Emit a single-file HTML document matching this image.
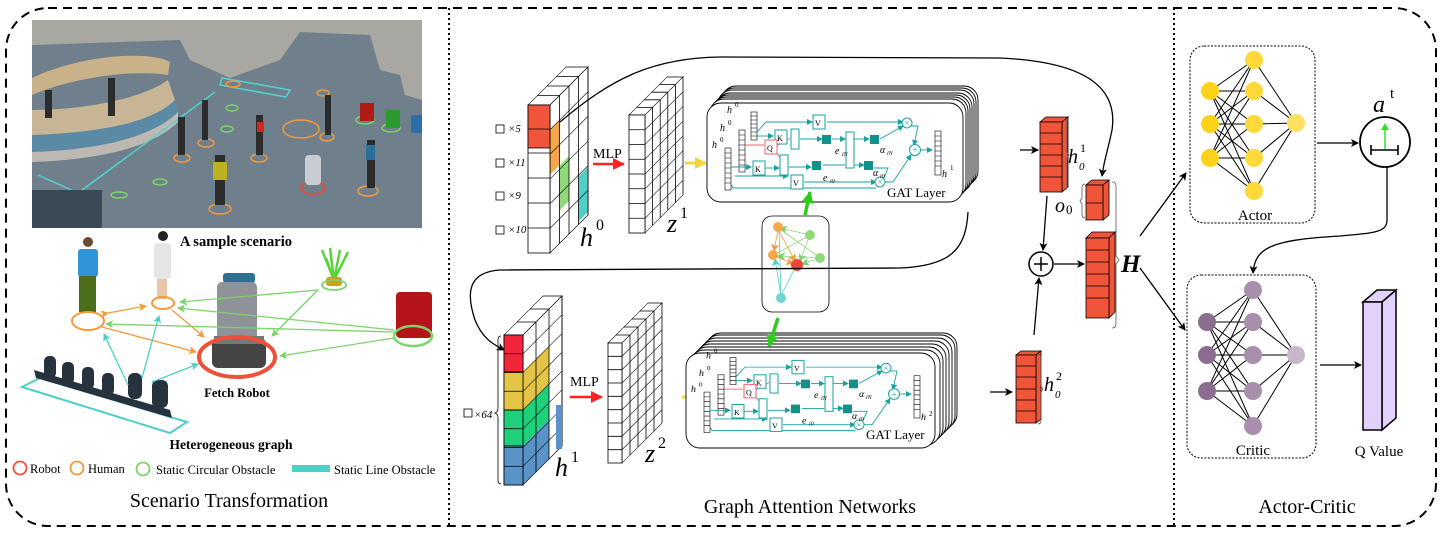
<!DOCTYPE html>
<html><head><meta charset="utf-8"><style>
html,body{margin:0;padding:0;background:#fff}
svg{display:block}
text{font-family:"Liberation Serif",serif}
</style></head><body>
<svg width="1445" height="535" viewBox="0 0 1445 535" xmlns="http://www.w3.org/2000/svg">
<defs>
<marker id="ak" markerWidth="8" markerHeight="8" refX="7" refY="4" orient="auto" markerUnits="userSpaceOnUse"><path d="M0,0 L8,4 L0,8 L2,4z" fill="#000"/></marker>
<marker id="ao" markerWidth="8" markerHeight="8" refX="7" refY="4" orient="auto" markerUnits="userSpaceOnUse"><path d="M0,0 L8,4 L0,8 L2,4z" fill="#f59a3a"/></marker>
<marker id="ag" markerWidth="8" markerHeight="8" refX="7" refY="4" orient="auto" markerUnits="userSpaceOnUse"><path d="M0,0 L8,4 L0,8 L2,4z" fill="#7cd36a"/></marker>
<marker id="ac" markerWidth="8" markerHeight="8" refX="7" refY="4" orient="auto" markerUnits="userSpaceOnUse"><path d="M0,0 L8,4 L0,8 L2,4z" fill="#4fcfc8"/></marker>
<marker id="at" markerWidth="6" markerHeight="6" refX="5" refY="3" orient="auto" markerUnits="userSpaceOnUse"><path d="M0,0 L6,3 L0,6z" fill="#17a2a0"/></marker>
<marker id="aR" markerWidth="12" markerHeight="12" refX="11" refY="6" orient="auto" markerUnits="userSpaceOnUse"><path d="M0,0 L12,6 L0,12z" fill="#f22"/></marker>
<marker id="aY" markerWidth="12" markerHeight="12" refX="11" refY="6" orient="auto" markerUnits="userSpaceOnUse"><path d="M0,0 L12,6 L0,12z" fill="#f5d63a"/></marker>
<marker id="aG" markerWidth="12" markerHeight="12" refX="11" refY="6" orient="auto" markerUnits="userSpaceOnUse"><path d="M0,0 L12,6 L0,12z" fill="#2ecc1a"/></marker>
</defs>

<!-- outer border -->
<rect x="6" y="8" width="1430" height="518" rx="42" fill="none" stroke="#000" stroke-width="2" stroke-dasharray="9,6"/>
<line x1="449" y1="8" x2="449" y2="526" stroke="#000" stroke-width="2" stroke-dasharray="2,3"/>
<line x1="1174" y1="8" x2="1174" y2="526" stroke="#000" stroke-width="2" stroke-dasharray="2,3"/>

<!-- ===== Scenario image ===== -->
<rect x="32" y="20" width="390" height="208" fill="#6f7f8b"/>
<polygon points="32,20 422,20 422,100 405,95 400,75 380,70 370,35 300,32 280,60 230,78 190,60 180,40 32,45" fill="#a9a7a1"/>
<path d="M32,78 C80,55 150,50 170,62 L168,75 C140,70 80,75 32,95z" fill="#c9b18a"/>
<path d="M32,110 C80,110 140,100 168,80 L175,100 C150,125 90,135 32,138z" fill="#c8b596"/>
<path d="M32,135 C90,133 150,125 175,100 L178,112 C150,140 90,150 32,152z" fill="#5b8aa6"/>
<path d="M32,152 C90,150 150,140 178,112 L178,122 C150,150 90,160 32,162z" fill="#bdb9b2"/>
<polyline points="38,175 78,193 215,92" fill="none" stroke="#4fd4d0" stroke-width="1.5"/>
<polygon points="222,78 290,90 286,97 220,85" fill="none" stroke="#4fd4d0" stroke-width="1.5"/>
<rect x="32" y="190" width="70" height="38" fill="#3b4956"/>
<g fill="none" stroke="#f59a3a" stroke-width="1.5">
<ellipse cx="233" cy="84" rx="7" ry="3"/><ellipse cx="323" cy="93" rx="6" ry="3"/>
<ellipse cx="206" cy="143" rx="8" ry="4"/><ellipse cx="182" cy="158" rx="8" ry="4"/>
<ellipse cx="259" cy="158" rx="8" ry="4"/><ellipse cx="301" cy="129" rx="18" ry="9"/>
<ellipse cx="327" cy="137" rx="7" ry="4"/><ellipse cx="368" cy="191" rx="10" ry="5"/>
<ellipse cx="220" cy="209" rx="11" ry="5"/></g>
<g fill="none" stroke="#7cd36a" stroke-width="1.5">
<ellipse cx="232" cy="108" rx="6" ry="3"/><ellipse cx="227" cy="129" rx="6" ry="3"/>
<ellipse cx="160" cy="182" rx="7" ry="3"/><ellipse cx="119" cy="195" rx="8" ry="3"/>
<ellipse cx="365" cy="120" rx="9" ry="4"/><ellipse cx="391" cy="128" rx="9" ry="4"/></g>
<ellipse cx="313" cy="188" rx="12" ry="6" fill="none" stroke="#f04a3a" stroke-width="1.8"/>
<rect x="305" y="155" width="16" height="30" rx="4" fill="#c9ccd1"/>
<rect x="360" y="103" width="14" height="18" fill="#b11b16"/><rect x="386" y="110" width="14" height="18" fill="#2d9a2d"/><rect x="411" y="115" width="11" height="18" fill="#2c6ea8"/>
<g fill="#2c2c2c"><rect x="215" y="155" width="10" height="50"/><rect x="178" y="117" width="7" height="38"/><rect x="202" y="100" width="6" height="40"/><rect x="256" y="115" width="7" height="40"/><rect x="367" y="140" width="8" height="48"/><rect x="325" y="95" width="6" height="40"/><rect x="108" y="78" width="7" height="38"/><rect x="45" y="90" width="7" height="28"/></g>
<rect x="213" y="162" width="14" height="18" fill="#bcb121"/>
<rect x="366" y="145" width="9" height="15" fill="#2a6f9c"/>
<rect x="257" y="122" width="7" height="10" fill="#d22"/>

<text x="236" y="246" font-size="14.5" font-weight="bold" text-anchor="middle">A sample scenario</text>

<!-- ===== Heterogeneous graph ===== -->
<polygon points="22,387 170,433 187,422 40,378" fill="none" stroke="#4fcfc8" stroke-width="2"/>
<g fill="#26323d">
<rect x="44" y="356" width="12" height="22" rx="5"/><rect x="62" y="362" width="12" height="22" rx="5"/><rect x="82" y="367" width="12" height="22" rx="5"/><rect x="102" y="373" width="12" height="22" rx="5"/><rect x="128" y="373" width="14" height="26" rx="6"/><rect x="152" y="380" width="16" height="28" rx="6"/>
<polygon points="34,370 170,410 172,418 36,378"/></g>
<circle cx="88" cy="242" r="5" fill="#6a4a30"/>
<rect x="78" y="249" width="20" height="28" rx="3" fill="#2f95d6"/>
<rect x="79" y="276" width="17" height="36" fill="#4c6d1a"/>
<circle cx="163" cy="236" r="5" fill="#222"/>
<rect x="154" y="243" width="17" height="36" rx="4" fill="#e6e6e6"/>
<rect x="157" y="279" width="10" height="20" fill="#e8c8a8"/>
<rect x="223" y="273" width="32" height="10" rx="3" fill="#2f6f92"/>
<rect x="217" y="282" width="40" height="58" rx="5" fill="#8f9399"/>
<rect x="212" y="338" width="54" height="30" rx="6" fill="#444"/>
<rect x="214" y="336" width="50" height="8" fill="#777"/>
<path d="M334,280 L322,250 M334,280 L330,248 M334,280 L340,250 M334,280 L348,252 M334,280 L326,258" stroke="#5ad33a" stroke-width="2.5"/>
<rect x="326" y="277" width="16" height="9" rx="3" fill="#c9a21e"/>
<rect x="396" y="292" width="36" height="46" rx="4" fill="#b5141a"/>
<g stroke-width="1.3" fill="none">
<line x1="108" y1="313" x2="146" y2="306" stroke="#f59a3a" marker-end="url(#ao)" marker-start="url(#ao)"/>
<line x1="102" y1="327" x2="196" y2="352" stroke="#f59a3a" marker-end="url(#ao)"/>
<line x1="172" y1="310" x2="204" y2="337" stroke="#f59a3a" marker-end="url(#ao)"/>
<line x1="318" y1="290" x2="180" y2="302" stroke="#7cd36a" marker-end="url(#ag)"/>
<line x1="318" y1="290" x2="272" y2="336" stroke="#7cd36a" marker-end="url(#ag)"/>
<line x1="394" y1="330" x2="178" y2="308" stroke="#7cd36a" marker-end="url(#ag)"/>
<line x1="394" y1="332" x2="106" y2="324" stroke="#7cd36a" marker-end="url(#ag)"/>
<line x1="394" y1="338" x2="280" y2="356" stroke="#7cd36a" marker-end="url(#ag)"/>
<line x1="128" y1="385" x2="104" y2="334" stroke="#4fcfc8" marker-end="url(#ac)"/>
<line x1="142" y1="378" x2="159" y2="316" stroke="#4fcfc8" marker-end="url(#ac)"/>
<line x1="152" y1="382" x2="198" y2="364" stroke="#4fcfc8" marker-end="url(#ac)"/>
</g>
<ellipse cx="88" cy="321" rx="16" ry="9" fill="none" stroke="#f59a3a" stroke-width="2"/>
<ellipse cx="163" cy="303" rx="11" ry="6" fill="none" stroke="#f59a3a" stroke-width="2"/>
<ellipse cx="237" cy="357" rx="38" ry="20" fill="none" stroke="#f0503a" stroke-width="4"/>
<ellipse cx="334" cy="285" rx="12" ry="5" fill="none" stroke="#7cd36a" stroke-width="1.8"/>
<ellipse cx="413" cy="336" rx="19" ry="10" fill="none" stroke="#7cd36a" stroke-width="2.5"/>
<text x="237" y="397" font-size="12.5" font-weight="bold" text-anchor="middle">Fetch Robot</text>
<text x="231" y="449" font-size="13.5" font-weight="bold" text-anchor="middle">Heterogeneous graph</text>
<circle cx="20" cy="468" r="6.5" fill="none" stroke="#f0503a" stroke-width="1.8"/>
<text x="30" y="473" font-size="12.5">Robot</text>
<circle cx="77" cy="468" r="6.5" fill="none" stroke="#f59a3a" stroke-width="1.8"/>
<text x="88" y="473" font-size="12.5">Human</text>
<circle cx="143" cy="469" r="6.5" fill="none" stroke="#7cd36a" stroke-width="1.8"/>
<text x="156" y="474" font-size="12.5">Static Circular Obstacle</text>
<rect x="292" y="465" width="38" height="7" fill="#4fcfc8"/>
<text x="334" y="474" font-size="12.5">Static Line Obstacle</text>
<text x="229" y="507" font-size="20" text-anchor="middle">Scenario Transformation</text>

<!-- ===== h0 tensor ===== -->
<g stroke="#000" stroke-width="0.8">
<g transform="translate(528,105) skewX(-45)"><rect x="0" y="-38" width="22" height="38" fill="#fff"/>
<line x1="0" y1="-9.5" x2="22" y2="-9.5"/><line x1="0" y1="-19" x2="22" y2="-19"/><line x1="0" y1="-28.5" x2="22" y2="-28.5"/></g>
<g transform="translate(550,105) skewY(-45)">
<rect x="0" y="0" width="38" height="148" fill="#fff"/>
<rect x="0" y="24.7" width="9.5" height="45" fill="#f8a64a" stroke="none"/>
<rect x="9.5" y="70" width="9.5" height="45" fill="#8fd97a" stroke="none"/>
<rect x="28.5" y="100" width="9.5" height="45" fill="#4fcfc8" stroke="none"/>
<path d="M9.5,0V148M19,0V148M28.5,0V148M0,24.7H38M0,49.3H38M0,74H38M0,98.7H38M0,123.3H38" fill="none"/>
<rect x="0" y="0" width="38" height="148" fill="none"/></g>
<rect x="528" y="105" width="22" height="148" fill="#fff"/>
<rect x="528" y="105" width="22" height="43" fill="#f0553a"/>
<path d="M528,129H550M528,153H550M528,178H550M528,203H550M528,228H550" fill="none"/>
</g>
<g font-size="11" font-style="italic"><text x="508" y="132">×5</text><text x="508" y="166">×11</text><text x="508" y="199">×9</text><text x="508" y="233">×10</text></g>
<g fill="none" stroke="#000" stroke-width="0.8"><rect x="496" y="125" width="8" height="8"/><rect x="496" y="159" width="8" height="8"/><rect x="496" y="192" width="8" height="8"/><rect x="496" y="226" width="8" height="8"/><rect x="464" y="409" width="8" height="8"/></g>
<text x="580" y="246" font-size="26" font-style="italic">h</text><text x="596" y="230" font-size="16">0</text>

<!-- ===== z1 ===== -->
<g stroke="#000" stroke-width="0.8" fill="#fff">
<g transform="translate(629,115) skewX(-45)"><rect x="0" y="-38" width="16" height="38"/><path d="M0,-7.6H16M0,-15.2H16M0,-22.8H16M0,-30.4H16"/></g>
<g transform="translate(645,115) skewY(-45)"><rect x="0" y="0" width="38" height="118"/><path d="M7.6,0V118M15.2,0V118M22.8,0V118M30.4,0V118M0,14.75H38M0,29.5H38M0,44.25H38M0,59H38M0,73.75H38M0,88.5H38M0,103.25H38"/></g>
<rect x="629" y="115" width="16" height="118"/><path d="M629,129.75H645M629,144.5H645M629,159.25H645M629,174H645M629,188.75H645M629,203.5H645M629,218.25H645"/>
</g>
<text x="667" y="232" font-size="26" font-style="italic">z</text><text x="680" y="218" font-size="16">1</text>

<!-- ===== h1 tensor ===== -->
<g stroke="#000" stroke-width="0.8">
<g transform="translate(504,335) skewX(-45)"><rect x="0" y="-39" width="19" height="39" fill="#fff"/><path d="M0,-13H19M0,-26H19"/></g>
<g transform="translate(523,335) skewY(-45)">
<rect x="0" y="0" width="39" height="150" fill="#fff"/>
<rect x="0" y="37" width="26" height="38" fill="#e3c447" stroke="none"/>
<rect x="0" y="75" width="26" height="36" fill="#1fd07a" stroke="none"/>
<rect x="0" y="111" width="26" height="39" fill="#5b93c8" stroke="none"/>
<path d="M13,0V150M26,0V150M0,18.75H39M0,37.5H39M0,56.25H39M0,75H39M0,93.75H39M0,112.5H39M0,131.25H39" fill="none"/>
<rect x="0" y="0" width="39" height="150" fill="none"/></g>
<rect x="556" y="405" width="6" height="44" fill="#5b93c8" stroke="none"/>
<rect x="504" y="335" width="19" height="150" fill="#fff"/>
<rect x="504" y="335" width="19" height="37" fill="#f2253a"/>
<rect x="504" y="372" width="19" height="38" fill="#e3c447"/>
<rect x="504" y="410" width="19" height="36" fill="#1fd07a"/>
<rect x="504" y="446" width="19" height="39" fill="#5b93c8"/>
<path d="M504,353.75H523M504,372.5H523M504,391.25H523M504,410H523M504,428.75H523M504,447.5H523M504,466.25H523" fill="none"/>
</g>
<path d="M501,336 q-3,0 -3,4 v68 q0,4 -3,5 q3,1 3,5 v62 q0,4 3,4" fill="none" stroke="#000" stroke-width="0.8"/>
<text x="474" y="418" font-size="11" font-style="italic">×64</text>
<text x="555" y="476" font-size="26" font-style="italic">h</text><text x="571" y="462" font-size="16">1</text>

<!-- ===== z2 ===== -->
<g stroke="#000" stroke-width="0.8" fill="#fff">
<g transform="translate(608,343) skewX(-45)"><rect x="0" y="-40" width="14" height="40"/><path d="M0,-8H14M0,-16H14M0,-24H14M0,-32H14"/></g>
<g transform="translate(622,343) skewY(-45)"><rect x="0" y="0" width="40" height="120"/><path d="M8,0V120M16,0V120M24,0V120M32,0V120M0,13.3H40M0,26.7H40M0,40H40M0,53.3H40M0,66.7H40M0,80H40M0,93.3H40M0,106.7H40"/></g>
<rect x="608" y="343" width="14" height="120"/><path d="M608,356.3H622M608,369.7H622M608,383H622M608,396.3H622M608,409.7H622M608,423H622M608,436.3H622M608,449.7H622"/>
</g>
<text x="645" y="462" font-size="26" font-style="italic">z</text><text x="658" y="448" font-size="16">2</text>

<!-- MLP arrows -->
<text x="593" y="158" font-size="14">MLP</text>
<line x1="593" y1="164" x2="624" y2="164" stroke="#f22" stroke-width="2.5" marker-end="url(#aR)"/>
<text x="570" y="386" font-size="14">MLP</text>
<line x1="570" y1="397" x2="602" y2="397" stroke="#f22" stroke-width="2.5" marker-end="url(#aR)"/>
<line x1="685" y1="163" x2="706" y2="163" stroke="#f5d63a" stroke-width="3" marker-end="url(#aY)"/>
<line x1="682" y1="397" x2="702" y2="397" stroke="#f5d63a" stroke-width="3" marker-end="url(#aY)"/>

<!-- ===== GAT inner ===== -->
<defs>
<g id="gin" font-style="italic">
<g stroke="#000" stroke-width="0.6" fill="#fff">
<rect x="751" y="112" width="6" height="28"/><path d="M751,116H757M751,120H757M751,124H757M751,128H757M751,132H757M751,136H757"/>
<rect x="739" y="130" width="6" height="42"/><path d="M739,135H745M739,140H745M739,145H745M739,150H745M739,155H745M739,160H745M739,165H745"/>
<rect x="725" y="148" width="6" height="42"/><path d="M725,153H731M725,158H731M725,163H731M725,168H731M725,173H731M725,178H731M725,183H731"/>
<rect x="935" y="131" width="6" height="44"/><path d="M935,136H941M935,141H941M935,146H941M935,151H941M935,156H941M935,161H941M935,166H941"/>
</g>
<g fill="none" stroke="#17a2a0" stroke-width="0.9">
<path d="M757,132 L766,122 H812" marker-end="url(#at)"/>
<path d="M827,122 H903" marker-end="url(#at)"/>
<path d="M757,136 H773" marker-end="url(#at)"/>
<path d="M800,139 H822" marker-end="url(#at)"/>
<path d="M731,167 H751" marker-end="url(#at)"/>
<path d="M765,168 H779" marker-end="url(#at)"/>
<path d="M789,167 H811" marker-end="url(#at)"/>
<path d="M832,139 H845" marker-end="url(#at)"/>
<path d="M823,165 H845" />
<path d="M854,139 H869" marker-end="url(#at)"/>
<path d="M854,165 H864" marker-end="url(#at)"/>
<path d="M880,139 L903,126" marker-end="url(#at)"/>
<path d="M735,176 H788" marker-end="url(#at)"/>
<path d="M804,182 H876" marker-end="url(#at)"/>
<path d="M874,168 H888 L884,178"/>
<path d="M911,126 H918 L914,145" marker-end="url(#at)"/>
<path d="M885,182 L893,182 L911,155" marker-end="url(#at)"/>
<path d="M919,150 H932" marker-end="url(#at)"/>
<path d="M731,184 L733,188 H876"/>
</g>
<g fill="none" stroke="#f06070" stroke-width="0.9">
<path d="M745,145 H764"/><path d="M776,146 L790,138"/><path d="M776,152 L781,159"/>
</g>
<g fill="#fff" stroke="#17a2a0" stroke-width="1">
<rect x="813" y="115" width="12" height="14"/><rect x="775" y="130" width="12" height="14"/><rect x="791" y="129" width="8" height="20"/>
<rect x="753" y="161" width="12" height="14"/><rect x="780" y="155" width="8" height="20"/><rect x="791" y="175" width="12" height="14"/>
<rect x="846" y="132" width="8" height="36"/>
<circle cx="907" cy="123" r="5"/><circle cx="880" cy="182" r="5"/><circle cx="915" cy="150" r="5.5"/>
</g>
<rect x="765" y="140" width="12" height="14" fill="#fff" stroke="#f06070" stroke-width="1"/>
<g font-size="8" fill="#000" font-style="normal"><text x="815" y="126">V</text><text x="777" y="141">K</text><text x="755" y="172">K</text><text x="793" y="186">V</text><text x="767" y="151">Q</text></g>
<g font-size="9" fill="#17a2a0" font-style="normal" text-anchor="middle"><text x="907" y="126">×</text><text x="880" y="185">×</text><text x="915" y="153">+</text></g>
<g fill="#138f8c"><rect x="822" y="135" width="9" height="9"/><rect x="812" y="161" width="9" height="9"/><rect x="870" y="135" width="9" height="9"/><rect x="864" y="161" width="9" height="9"/></g>
<g font-size="10" fill="#000"><text x="727" y="113">h</text><text x="735" y="107" font-size="7" font-style="normal">0</text><text x="720" y="131">h</text><text x="728" y="125" font-size="7" font-style="normal">0</text><text x="712" y="148">h</text><text x="720" y="142" font-size="7" font-style="normal">0</text>
<text x="835" y="154">e</text><text x="842" y="156" font-size="6">iN</text><text x="823" y="181">e</text><text x="830" y="183" font-size="6">i0</text>
<text x="880" y="153">α</text><text x="887" y="155" font-size="6">iN</text><text x="873" y="176">α</text><text x="880" y="178" font-size="6">i0</text>
<text x="942" y="177">h</text></g>
<text x="887" y="197" font-size="13" font-style="normal">GAT Layer</text>
</g>
</defs>
<g fill="#fff" stroke="#000" stroke-width="0.9">
<rect x="722" y="86" width="256" height="99" rx="14"/><rect x="720" y="88" width="256" height="99" rx="14"/><rect x="718" y="90" width="256" height="99" rx="14"/><rect x="716" y="93" width="256" height="99" rx="14"/><rect x="714" y="95" width="256" height="99" rx="14"/><rect x="712" y="97" width="256" height="99" rx="14"/><rect x="710" y="99" width="256" height="99" rx="14"/><rect x="707" y="103" width="256" height="99" rx="14"/>
</g>
<use href="#gin"/>
<text x="950" y="170" font-size="7">1</text>
<g fill="#fff" stroke="#000" stroke-width="0.9">
<rect x="707" y="333" width="250" height="95" rx="14"/><rect x="705" y="335" width="250" height="95" rx="14"/><rect x="702" y="338" width="250" height="95" rx="14"/><rect x="699" y="341" width="250" height="95" rx="14"/><rect x="696" y="344" width="250" height="95" rx="14"/><rect x="693" y="347" width="250" height="95" rx="14"/><rect x="690" y="350" width="250" height="95" rx="14"/><rect x="686" y="353" width="249" height="95" rx="14"/>
</g>
<use href="#gin" transform="translate(-21,250) scale(1,0.96)"/>
<text x="929" y="416" font-size="7">2</text>

<!-- graph box -->
<rect x="762" y="216" width="67" height="96" rx="10" fill="#fff" stroke="#000" stroke-width="0.8"/>
<g stroke-width="0.8" fill="none">
<line x1="810" y1="235" x2="780" y2="228" stroke="#8fd97a" marker-end="url(#ag)"/>
<line x1="820" y1="258" x2="780" y2="229" stroke="#8fd97a"/>
<line x1="810" y1="235" x2="776" y2="254" stroke="#8fd97a"/>
<line x1="820" y1="258" x2="778" y2="256" stroke="#8fd97a" marker-end="url(#ag)"/>
<line x1="810" y1="235" x2="800" y2="261" stroke="#8fd97a" marker-end="url(#ag)"/>
<line x1="820" y1="258" x2="802" y2="264" stroke="#8fd97a" marker-end="url(#ag)"/>
<line x1="778" y1="230" x2="774" y2="251" stroke="#f59a3a" marker-end="url(#ao)"/>
<line x1="778" y1="229" x2="795" y2="261" stroke="#f59a3a" marker-end="url(#ao)"/>
<line x1="775" y1="256" x2="793" y2="264" stroke="#f59a3a" marker-end="url(#ao)"/>
<line x1="781" y1="296" x2="775" y2="259" stroke="#4fcfc8" marker-end="url(#ac)"/>
<line x1="781" y1="296" x2="779" y2="231" stroke="#4fcfc8"/>
<line x1="781" y1="296" x2="794" y2="270" stroke="#4fcfc8"/>
</g>
<circle cx="778" cy="227" r="5" fill="#f8a64a"/><circle cx="773" cy="255" r="5" fill="#f8a64a"/>
<circle cx="810" cy="235" r="5" fill="#8fd97a"/><circle cx="820" cy="258" r="5" fill="#8fd97a"/>
<circle cx="797" cy="265" r="6" fill="#f0443a"/><circle cx="781" cy="298" r="5" fill="#6fd4d4"/>
<line x1="805" y1="215" x2="810" y2="192" stroke="#2ecc1a" stroke-width="3.5" marker-end="url(#aG)"/>
<line x1="778" y1="318" x2="769" y2="346" stroke="#2ecc1a" stroke-width="3.5" marker-end="url(#aG)"/>

<!-- curves -->
<path d="M560,122 C610,80 650,58 720,57 L1000,58 C1090,62 1118,90 1112,130 C1108,150 1104,160 1102,176" fill="none" stroke="#000" stroke-width="1.3" marker-end="url(#ak)"/>
<path d="M968,212 C966,250 950,266 900,268 L500,270 C470,272 465,290 475,320 C483,340 495,345 504,350" fill="none" stroke="#000" stroke-width="1.3" marker-end="url(#ak)"/>

<!-- right tensors -->
<line x1="1020" y1="150" x2="1038" y2="150" stroke="#000" stroke-width="1.3" marker-end="url(#ak)"/>
<line x1="990" y1="392" x2="1012" y2="392" stroke="#000" stroke-width="1.3" marker-end="url(#ak)"/>
<g stroke="#000" stroke-width="0.8">
<polygon points="1040,122 1062,122 1068,117 1046,117" fill="#f0553a"/><polygon points="1062,122 1068,117 1068,187 1062,192" fill="#f0553a"/>
<rect x="1040" y="122" width="22" height="70" fill="#f0553a"/><path d="M1040,133H1062M1040,144H1062M1040,155H1062M1040,166H1062M1040,177H1062" fill="none"/>
<polygon points="1086,185 1103,185 1109,180 1092,180" fill="#f0553a"/><polygon points="1103,185 1109,180 1109,215 1103,220" fill="#f0553a"/>
<rect x="1086" y="185" width="17" height="35" fill="#f0553a"/><line x1="1086" y1="203" x2="1103" y2="203"/>
<polygon points="1086,238 1109,238 1115,232 1092,232" fill="#f0553a"/><polygon points="1109,238 1115,232 1115,312 1109,318" fill="#f0553a"/>
<rect x="1086" y="238" width="23" height="80" fill="#f0553a"/><path d="M1086,250H1109M1086,262H1109M1086,274H1109M1086,286H1109M1086,298H1109" fill="none"/>
<polygon points="1016,355 1036,355 1041,351 1021,351" fill="#f0553a"/><polygon points="1036,355 1041,351 1041,419 1036,423" fill="#f0553a"/>
<rect x="1016" y="355" width="20" height="68" fill="#f0553a"/><path d="M1016,366H1036M1016,377H1036M1016,389H1036M1016,400H1036M1016,411H1036" fill="none"/>
</g>
<g fill="none" stroke="#555" stroke-width="0.8">
<path d="M1064,120 q3,0 3,4 v28 l2,3 l-2,3 v28 q0,4 -3,4"/>
<path d="M1085,184 q-3,0 -3,4 v10 l-2,3 l2,3 v10 q0,4 3,4"/>
<path d="M1112,182 q4,0 4,4 v70 l3,4 l-3,4 v60 q0,4 -4,4"/>
<path d="M1038,354 q3,0 3,4 v28 l2,3 l-2,3 v28 q0,4 -3,4"/>
</g>
<text x="1068" y="163" font-size="20" font-style="italic">h</text><text x="1080" y="152" font-size="12">1</text><text x="1079" y="170" font-size="11" font-style="italic">0</text>
<text x="1055" y="212" font-size="20" font-style="italic">o</text><text x="1066" y="214" font-size="13">0</text>
<text x="1044" y="391" font-size="20" font-style="italic">h</text><text x="1056" y="380" font-size="12">2</text><text x="1055" y="398" font-size="11" font-style="italic">0</text>
<text x="1121" y="272" font-size="25" font-weight="bold" font-style="italic">H</text>
<circle cx="1041" cy="264" r="12" fill="#fff" stroke="#000" stroke-width="1.5"/>
<path d="M1034,264H1048M1041,257V271" stroke="#000" stroke-width="1.5"/>
<line x1="1047" y1="196" x2="1043" y2="250" stroke="#000" stroke-width="1.3" marker-end="url(#ak)"/>
<line x1="1034" y1="335" x2="1039" y2="278" stroke="#000" stroke-width="1.3" marker-end="url(#ak)"/>
<line x1="1054" y1="264" x2="1084" y2="264" stroke="#000" stroke-width="1.3" marker-end="url(#ak)"/>
<line x1="1140" y1="236" x2="1186" y2="173" stroke="#000" stroke-width="1.3" marker-end="url(#ak)"/>
<line x1="1140" y1="268" x2="1185" y2="330" stroke="#000" stroke-width="1.3" marker-end="url(#ak)"/>

<!-- Actor -->
<rect x="1190" y="46" width="125" height="177" rx="14" fill="#fff" stroke="#000" stroke-width="1" stroke-dasharray="2,1.5"/>
<g stroke="#000" stroke-width="1">
<path d="M1210,91L1254,60M1210,91L1254,91M1210,91L1254,124M1210,91L1254,158M1210,91L1254,191M1210,124L1254,60M1210,124L1254,91M1210,124L1254,124M1210,124L1254,158M1210,124L1254,191M1210,158L1254,60M1210,158L1254,91M1210,158L1254,124M1210,158L1254,158M1210,158L1254,191M1254,60L1296,123M1254,91L1296,123M1254,124L1296,123M1254,158L1296,123M1254,191L1296,123"/>
</g>
<g fill="#ffd21a"><circle cx="1210" cy="91" r="9"/><circle cx="1210" cy="124" r="9"/><circle cx="1210" cy="158" r="9"/></g>
<g fill="#ffd83a"><circle cx="1254" cy="60" r="9"/><circle cx="1254" cy="91" r="9"/><circle cx="1254" cy="124" r="9"/><circle cx="1254" cy="158" r="9"/><circle cx="1254" cy="191" r="9"/></g>
<circle cx="1296" cy="123" r="9" fill="#ffe060"/>
<text x="1255" y="220" font-size="15" text-anchor="middle">Actor</text>
<line x1="1317" y1="143" x2="1358" y2="143" stroke="#000" stroke-width="1.3" marker-end="url(#ak)"/>
<circle cx="1385" cy="142" r="25" fill="#fff" stroke="#000" stroke-width="1.8"/>
<path d="M1371,150H1398M1371,145V155M1398,145V155" stroke="#000" stroke-width="1.6" fill="none"/>
<line x1="1385" y1="149" x2="1385" y2="126" stroke="#2ee02e" stroke-width="1.5"/><path d="M1381,130L1385,123L1389,130z" fill="#2ee02e"/>
<text x="1373" y="112" font-size="24" font-style="italic">a</text><text x="1390" y="98" font-size="15">t</text>
<path d="M1387,167 V220 C1387,232 1375,233 1340,236 C1270,240 1255,248 1253,273" fill="none" stroke="#000" stroke-width="1.3" marker-end="url(#ak)"/>

<!-- Critic -->
<rect x="1187" y="275" width="129" height="183" rx="14" fill="#fff" stroke="#000" stroke-width="1" stroke-dasharray="2,1.5"/>
<g stroke="#000" stroke-width="1">
<path d="M1207,322L1253,290M1207,322L1253,322M1207,322L1253,355M1207,322L1253,391M1207,322L1253,426M1207,355L1253,290M1207,355L1253,322M1207,355L1253,355M1207,355L1253,391M1207,355L1253,426M1207,391L1253,290M1207,391L1253,322M1207,391L1253,355M1207,391L1253,391M1207,391L1253,426M1253,290L1296,355M1253,322L1296,355M1253,355L1296,355M1253,391L1296,355M1253,426L1296,355"/>
</g>
<g fill="#8a6d8f"><circle cx="1207" cy="322" r="9"/><circle cx="1207" cy="355" r="9"/><circle cx="1207" cy="391" r="9"/></g>
<g fill="#a88fab"><circle cx="1253" cy="290" r="9"/><circle cx="1253" cy="322" r="9"/><circle cx="1253" cy="355" r="9"/><circle cx="1253" cy="391" r="9"/><circle cx="1253" cy="426" r="9"/></g>
<circle cx="1296" cy="355" r="9" fill="#c8b6cb"/>
<text x="1253" y="455" font-size="15" text-anchor="middle">Critic</text>
<line x1="1320" y1="365" x2="1361" y2="365" stroke="#000" stroke-width="1.3" marker-end="url(#ak)"/>
<g stroke="#000" stroke-width="1.5" fill="#e2d2fb">
<polygon points="1363,302 1382,302 1396,290 1377,290"/><polygon points="1382,302 1396,290 1396,418 1382,430"/>
<rect x="1363" y="302" width="19" height="128"/></g>
<text x="1379" y="456" font-size="15" text-anchor="middle">Q Value</text>

<text x="810" y="513" font-size="20" text-anchor="middle">Graph Attention Networks</text>
<text x="1307" y="513" font-size="20" text-anchor="middle">Actor-Critic</text>
</svg>
</body></html>
